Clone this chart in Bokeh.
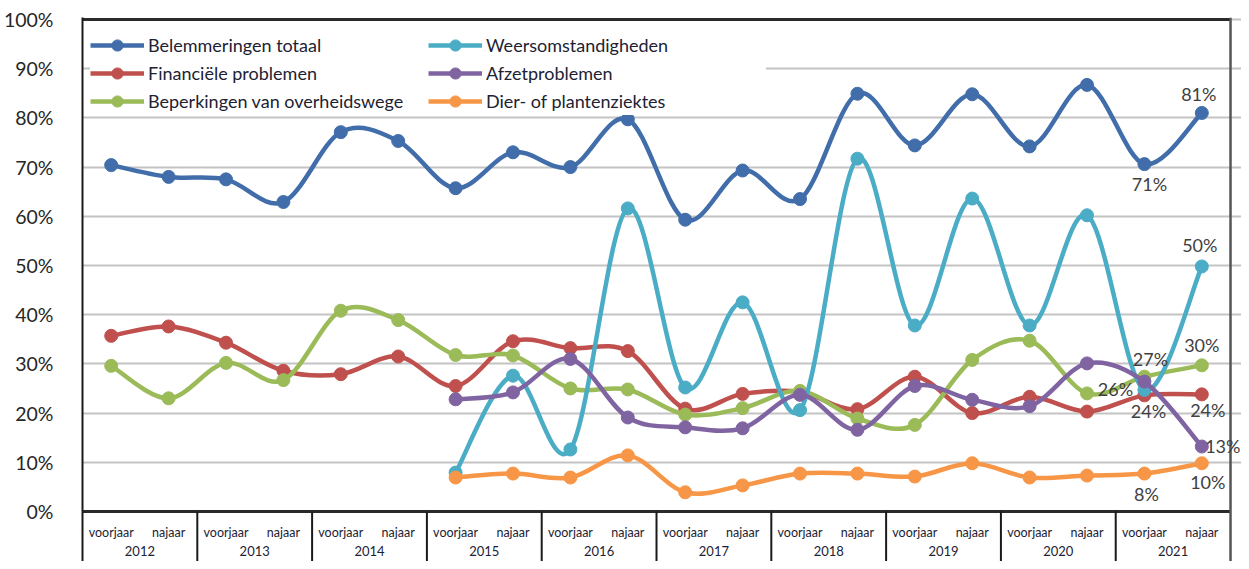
from bokeh.plotting import figure
from bokeh.models import (Range1d, FixedTicker, ColumnDataSource, Legend, LegendItem,
                          Span, LabelSet)
from bokeh.core.properties import value
from bokeh.embed import file_html
from bokeh.resources import INLINE

# ---------------- data ----------------
years = ["2012", "2013", "2014", "2015", "2016", "2017", "2018", "2019", "2020", "2021"]
seasons = ["voorjaar", "najaar"]
y_ticks = [0, 10, 20, 30, 40, 50, 60, 70, 80, 90, 100]

belemmeringen = [70.4, 68.0, 67.5, 62.9, 77.1, 75.3, 65.7, 73.0, 70.0, 79.7,
                 59.3, 69.3, 63.5, 84.9, 74.4, 84.8, 74.2, 86.7, 70.6, 81.0]
financiele = [35.7, 37.6, 34.3, 28.6, 27.9, 31.5, 25.5, 34.6, 33.2, 32.6,
              20.9, 23.9, 24.3, 20.8, 27.4, 20.0, 23.3, 20.3, 23.6, 23.8]
beperkingen = [29.6, 23.0, 30.2, 26.7, 40.8, 38.9, 31.8, 31.7, 25.0, 24.8,
               19.7, 21.0, 24.5, 18.9, 17.6, 30.8, 34.7, 24.0, 27.4, 29.7]
weer = [None, None, None, None, None, None, 7.9, 27.6, 12.6, 61.6,
        25.2, 42.5, 20.6, 71.7, 37.8, 63.6, 37.8, 60.2, 24.7, 49.8]
afzet = [None, None, None, None, None, None, 22.8, 24.2, 31.0, 19.1,
         17.1, 16.9, 23.7, 16.6, 25.5, 22.7, 21.4, 30.1, 26.4, 13.2]
dier = [None, None, None, None, None, None, 6.9, 7.7, 6.9, 11.4,
        3.9, 5.3, 7.7, 7.7, 7.1, 9.8, 6.9, 7.3, 7.7, 9.8]

series = [
    ("Belemmeringen totaal", belemmeringen, "#416EAA"),
    ("Financiële problemen", financiele, "#C0504D"),
    ("Beperkingen van overheidswege", beperkingen, "#9BBB59"),
    ("Weersomstandigheden", weer, "#4BACC6"),
    ("Afzetproblemen", afzet, "#8064A2"),
    ("Dier- of plantenziektes", dier, "#F79646"),
]
# legend fills column by column
legend_order = ["Belemmeringen totaal", "Financiële problemen",
                "Beperkingen van overheidswege", "Weersomstandigheden",
                "Afzetproblemen", "Dier- of plantenziektes"]

# data labels: (series, index, x offset px, y offset px (down))
data_labels = [
    ("Belemmeringen totaal", 19, -3, -19),
    ("Belemmeringen totaal", 18, 5, 20),
    ("Weersomstandigheden", 19, -2, -21),
    ("Beperkingen van overheidswege", 19, 0, -20),
    ("Beperkingen van overheidswege", 18, 6, -18),
    ("Afzetproblemen", 18, -29, 7),
    ("Financiële problemen", 18, 4, 16),
    ("Financiële problemen", 19, 6, 16),
    ("Afzetproblemen", 19, 21, -1),
    ("Dier- of plantenziektes", 18, 2, 20),
    ("Dier- of plantenziektes", 19, 6, 19),
]

FONT = "Lato"
n_cat = len(years) * len(seasons)
W, H = 1241, 561
LEFT, TOP = 80, 17
PX_PER_CAT = 57.5
PX_PER_PCT = 4.92
Y_TOP = 100.4
FRAME_H = H - TOP
Y_BOTTOM = Y_TOP - FRAME_H / PX_PER_PCT
X_END = (W - LEFT) / PX_PER_CAT

p = figure(width=W, height=H, output_backend="svg", toolbar_location=None,
           x_range=Range1d(0, X_END), y_range=Range1d(Y_BOTTOM, Y_TOP),
           x_axis_location=None, min_border_left=LEFT, min_border_right=0,
           min_border_top=TOP, min_border_bottom=0)
p.outline_line_color = None
p.background_fill_color = "white"
p.border_fill_color = "white"

# y axis
p.yaxis.ticker = FixedTicker(ticks=y_ticks)
p.yaxis.major_label_overrides = {t: f"{t}%" for t in y_ticks}
p.yaxis.axis_line_color = "#1a1a1a"
p.yaxis.axis_line_width = 2
p.yaxis.major_tick_line_color = None
p.yaxis.minor_tick_line_color = None
p.yaxis.major_label_standoff = 23
p.yaxis.major_label_text_font = FONT
p.yaxis.major_label_text_font_size = "19.5px"
p.yaxis.major_label_text_color = "#262626"
p.ygrid.ticker = FixedTicker(ticks=y_ticks[1:])
p.ygrid.grid_line_color = "#C4C4C4"
p.ygrid.grid_line_width = 2
p.ygrid.bounds = (0, n_cat)
p.xgrid.grid_line_color = None

# frame borders
p.segment(x0=[0, 0], y0=[100, 0], x1=[n_cat, n_cat], y1=[100, 0],
          line_color="#2a2a2a", line_width=3)
p.add_layout(Span(location=n_cat, dimension="height", line_color="#555555", line_width=2.5))

# category table below 0%
bounds = [2 * k for k in range(1, len(years))]
p.segment(x0=bounds, y0=[0] * len(bounds), x1=bounds, y1=[Y_BOTTOM] * len(bounds),
          line_color="#1a1a1a", line_width=2)
cat_x = [i + 0.5 for i in range(n_cat)]
cat_txt = [seasons[i % 2] for i in range(n_cat)]
p.text(x=cat_x, y=[-4.3] * n_cat, text=cat_txt, text_align="center",
       text_baseline="middle", text_font=value(FONT), text_font_size="12.5px",
       text_color="#1c2233")
yr_x = [2 * k + 1 for k in range(len(years))]
p.text(x=yr_x, y=[-8.1] * len(years), text=years, text_align="center",
       text_baseline="middle", text_font=value(FONT), text_font_size="13px",
       text_color="#1c2233")


def bezier_parts(xs, ys):
    out = {k: [] for k in ("x0", "y0", "x1", "y1", "cx0", "cy0", "cx1", "cy1")}
    n = len(xs)
    for i in range(n - 1):
        a = max(i - 1, 0)
        d = min(i + 2, n - 1)
        out["x0"].append(xs[i]); out["y0"].append(ys[i])
        out["x1"].append(xs[i + 1]); out["y1"].append(ys[i + 1])
        out["cx0"].append(xs[i] + (xs[i + 1] - xs[a]) / 6)
        out["cy0"].append(ys[i] + (ys[i + 1] - ys[a]) / 6)
        out["cx1"].append(xs[i + 1] - (xs[d] - xs[i]) / 6)
        out["cy1"].append(ys[i + 1] - (ys[d] - ys[i]) / 6)
    return out


legend_parts = {}
values_by_name = {}
for name, vals, col in series:
    xs = [i + 0.5 for i, v in enumerate(vals) if v is not None]
    ys = [v for v in vals if v is not None]
    values_by_name[name] = vals
    bz = bezier_parts(xs, ys)
    p.bezier(source=ColumnDataSource(bz), x0="x0", y0="y0", x1="x1", y1="y1",
             cx0="cx0", cy0="cy0", cx1="cx1", cy1="cy1",
             line_color=col, line_width=4.5, line_cap="round")
    sc = p.scatter(xs, ys, size=13, marker="circle", fill_color=col, line_color=col)
    dummy = p.line(x=[float("nan")], y=[float("nan")], line_color=col, line_width=4.5)
    legend_parts[name] = [dummy, sc]

LEG_PAD, ROW_H = 7, 28
legend_h = 2 * LEG_PAD + 3 * ROW_H
items = [LegendItem(label=n, renderers=legend_parts[n]) for n in legend_order]
legend = Legend(items=items, location=(8, FRAME_H - legend_h), ncols=2, margin=0,
                padding=LEG_PAD, spacing=0, label_height=ROW_H, glyph_height=ROW_H,
                glyph_width=54, label_width=280,
                label_standoff=4, label_text_font=FONT, label_text_font_size="18px",
                label_text_color="#1c2233", border_line_color=None,
                background_fill_color="white", background_fill_alpha=1.0)
p.add_layout(legend)

lx, ly, lt, ldx, ldy = [], [], [], [], []
for name, idx, dx, dy in data_labels:
    v = values_by_name[name][idx]
    lx.append(idx + 0.5); ly.append(v); lt.append(f"{round(v)}%")
    ldx.append(dx); ldy.append(-dy)
lab_src = ColumnDataSource(dict(x=lx, y=ly, text=lt, dx=ldx, dy=ldy))
p.add_layout(LabelSet(x="x", y="y", text="text", x_offset="dx", y_offset="dy",
                      source=lab_src, text_align="center", text_baseline="middle",
                      text_font=value(FONT), text_font_size="18px",
                      text_color="#404040"))

open("out.html", "w").write(file_html(p, INLINE))
